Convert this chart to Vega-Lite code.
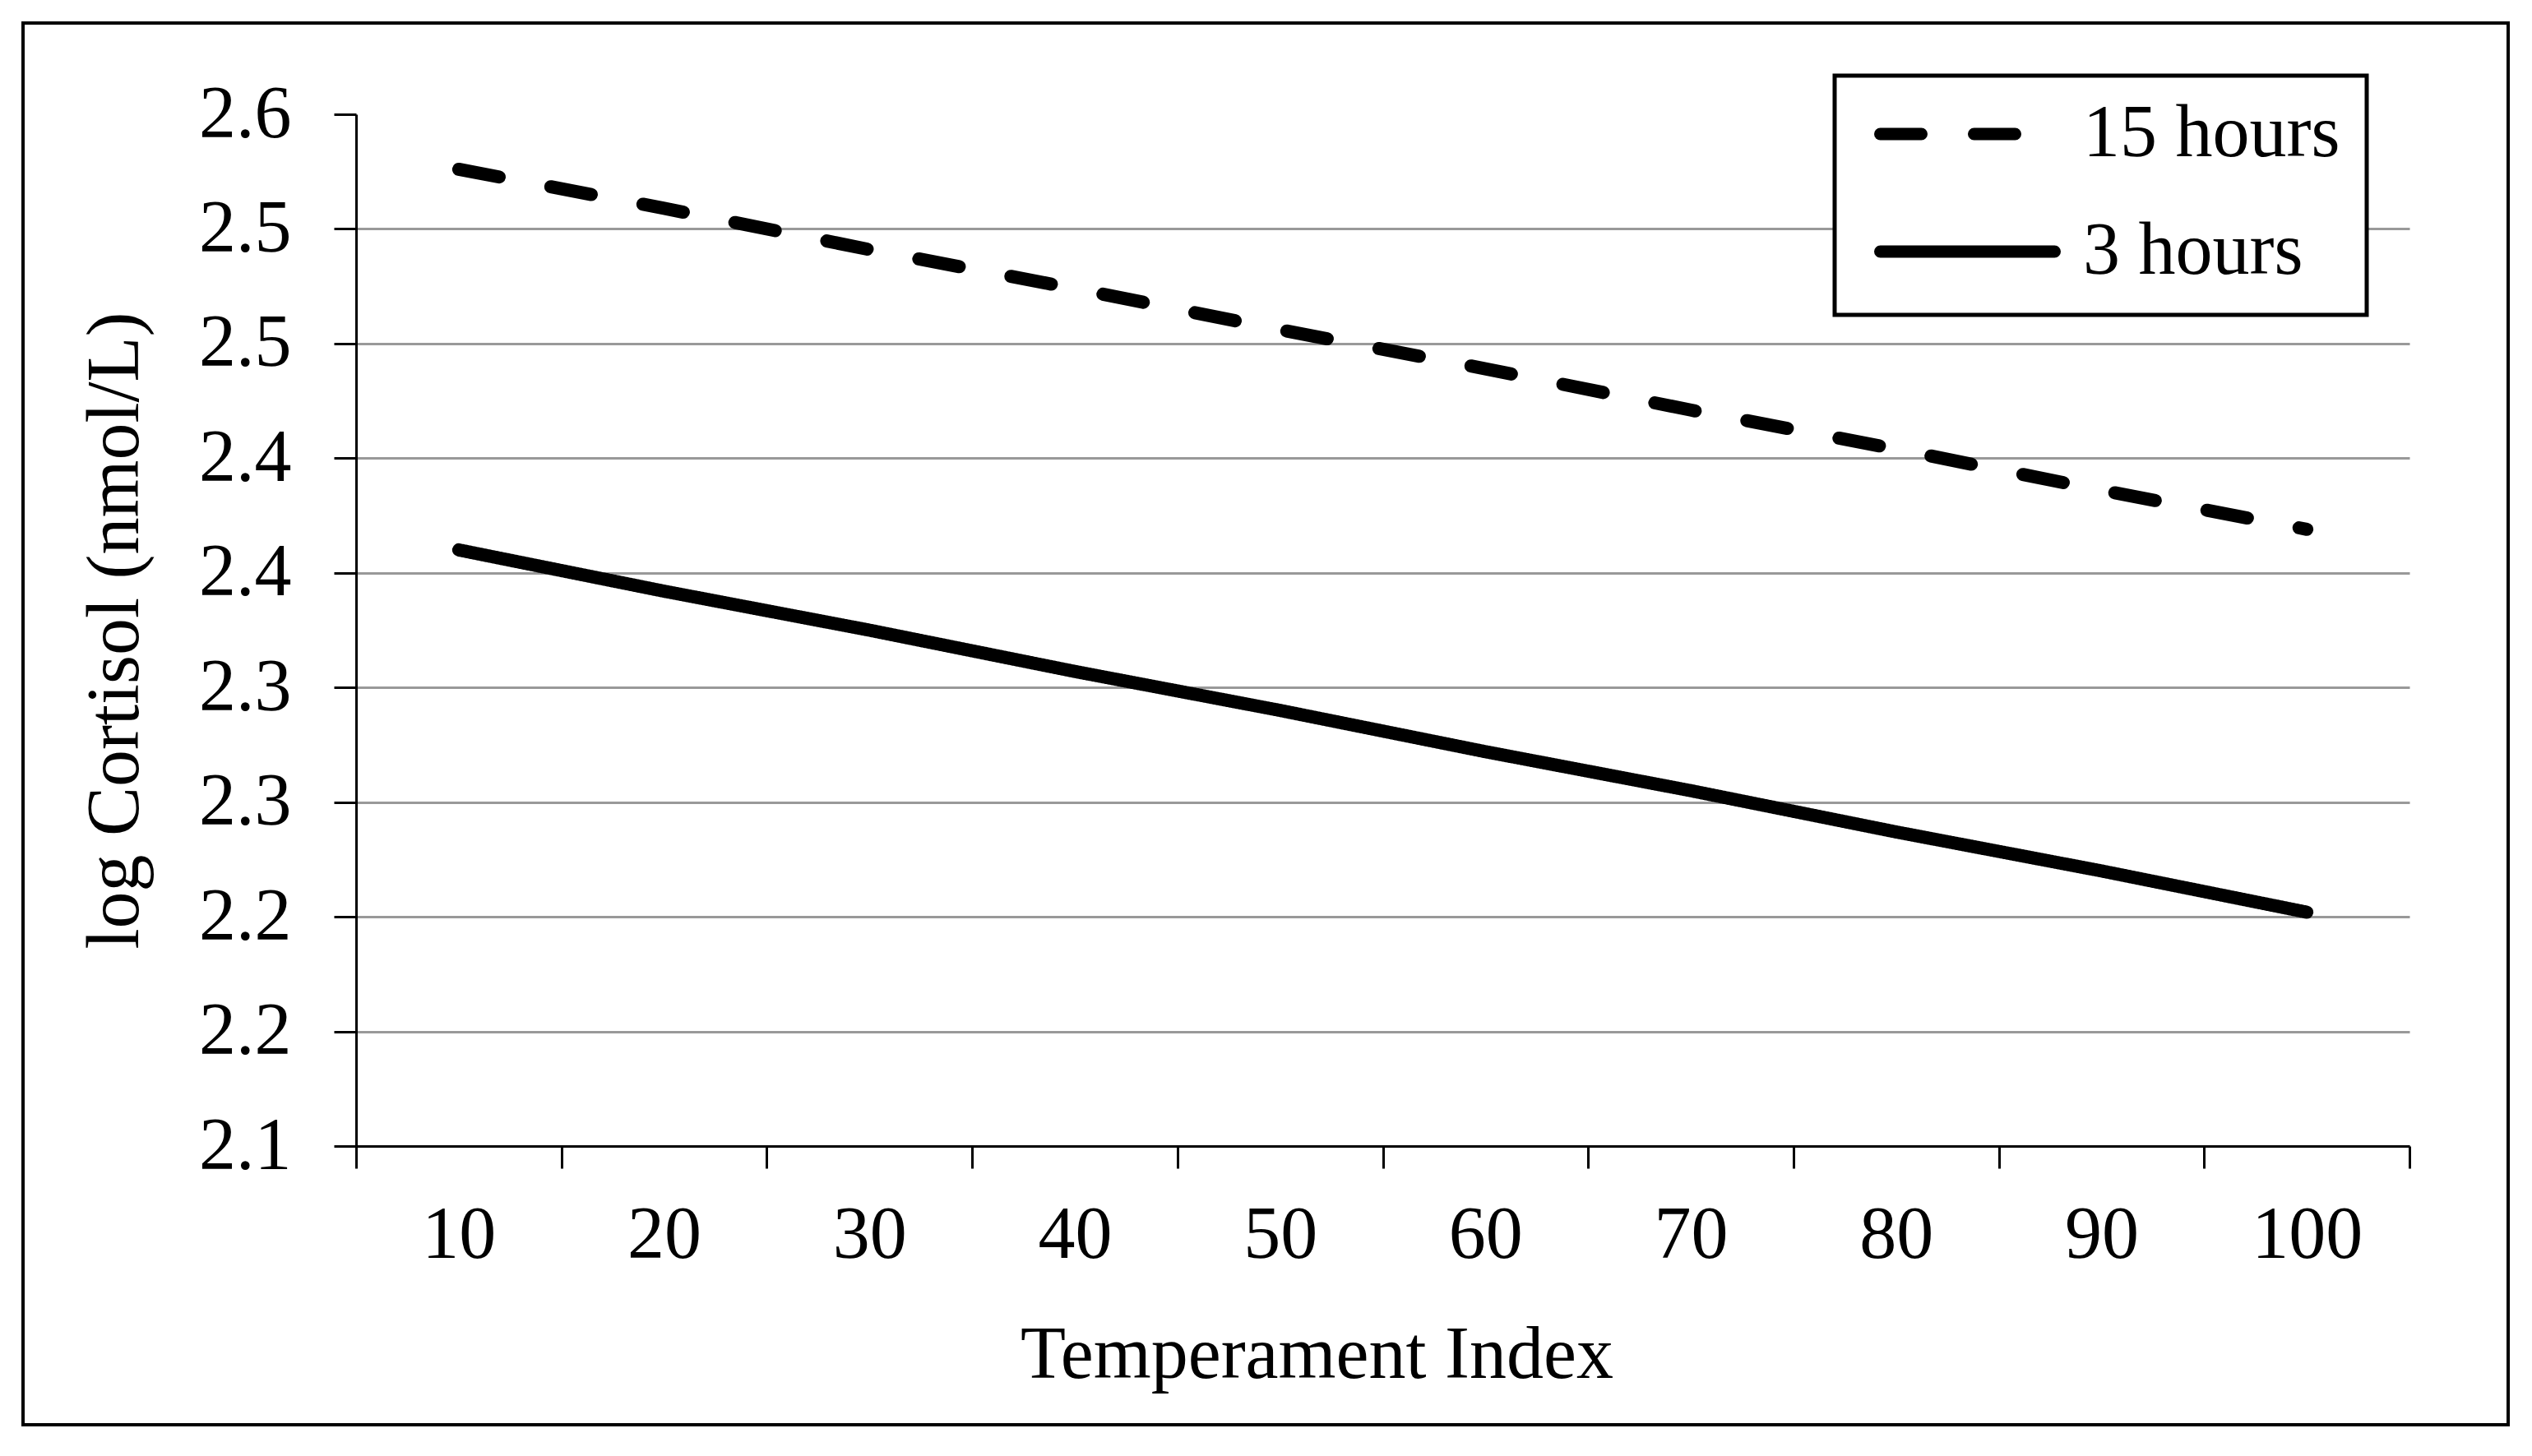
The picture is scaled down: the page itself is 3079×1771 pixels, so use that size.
{
  "$schema": "https://vega.github.io/schema/vega-lite/v6.json",
  "width": 3022,
  "height": 1705,
  "autosize": {"type": "none"},
  "padding": {"left": 28, "top": 28, "right": 29, "bottom": 38},
  "background": "white",
  "config": {
    "view": {"stroke": "black", "strokeWidth": 4},
    "axis": {
      "labelFont": "Liberation Serif",
      "labelFontSize": 90,
      "labelColor": "black",
      "titleFont": "Liberation Serif",
      "titleFontSize": 90,
      "titleFontWeight": "normal",
      "titleColor": "black",
      "domainColor": "black",
      "domainWidth": 3,
      "tickColor": "black",
      "tickWidth": 3,
      "tickSize": 27
    }
  },
  "data": {
    "values": [
      {"ti": 10, "series": "15 hours", "cortisol": 2.526},
      {"ti": 20, "series": "15 hours", "cortisol": 2.509},
      {"ti": 30, "series": "15 hours", "cortisol": 2.491},
      {"ti": 40, "series": "15 hours", "cortisol": 2.474},
      {"ti": 50, "series": "15 hours", "cortisol": 2.456},
      {"ti": 60, "series": "15 hours", "cortisol": 2.439},
      {"ti": 70, "series": "15 hours", "cortisol": 2.421},
      {"ti": 80, "series": "15 hours", "cortisol": 2.404},
      {"ti": 90, "series": "15 hours", "cortisol": 2.386},
      {"ti": 100, "series": "15 hours", "cortisol": 2.369},
      {"ti": 10, "series": "3 hours", "cortisol": 2.360},
      {"ti": 20, "series": "3 hours", "cortisol": 2.342},
      {"ti": 30, "series": "3 hours", "cortisol": 2.325},
      {"ti": 40, "series": "3 hours", "cortisol": 2.307},
      {"ti": 50, "series": "3 hours", "cortisol": 2.290},
      {"ti": 60, "series": "3 hours", "cortisol": 2.272},
      {"ti": 70, "series": "3 hours", "cortisol": 2.255},
      {"ti": 80, "series": "3 hours", "cortisol": 2.237},
      {"ti": 90, "series": "3 hours", "cortisol": 2.220},
      {"ti": 100, "series": "3 hours", "cortisol": 2.202}
    ]
  },
  "mark": {"type": "line", "color": "black", "strokeWidth": 16, "strokeCap": "round", "strokeJoin": "round"},
  "encoding": {
    "x": {
      "field": "ti",
      "type": "ordinal",
      "bandPosition": 0.5,
      "scale": {"type": "band", "range": [405, 2902], "paddingInner": 0, "paddingOuter": 0},
      "axis": {
        "title": "Temperament Index",
        "offset": -339,
        "labelAngle": 0,
        "tickBand": "extent",
        "labelPadding": 37,
        "grid": false,
        "titleX": 1573,
        "titleY": 281,
        "titleBaseline": "alphabetic",
        "titleAlign": "center"
      }
    },
    "y": {
      "field": "cortisol",
      "type": "quantitative",
      "scale": {"domain": [2.1, 2.55], "range": [1366, 111], "zero": false, "nice": false},
      "axis": {
        "title": "log Cortisol (nmol/L)",
        "offset": -405,
        "values": [2.1, 2.15, 2.2, 2.25, 2.3, 2.35, 2.4, 2.45, 2.5, 2.55],
        "labelExpr": "format(datum.value + 0.0001, '.1f')",
        "labelPadding": 52,
        "grid": true,
        "gridWidth": 3,
        "gridColor": {"condition": {"test": "datum.value > 2.54", "value": "transparent"}, "value": "#999999"},
        "titleX": -266,
        "titleY": 738.5,
        "titleAngle": -90,
        "titleBaseline": "alphabetic",
        "titleAlign": "center"
      }
    },
    "strokeDash": {
      "field": "series",
      "type": "nominal",
      "scale": {"domain": ["15 hours", "3 hours"], "range": [[50, 64], [1, 0]]},
      "legend": {
        "title": null,
        "orient": "none",
        "legendX": 2203,
        "legendY": 64,
        "padding": 32,
        "rowPadding": 53,
        "clipHeight": 78,
        "strokeColor": "black",
        "fillColor": "white",
        "symbolType": "stroke",
        "symbolSize": 44944,
        "symbolStrokeWidth": 15,
        "symbolStrokeColor": "black",
        "symbolOffset": 16,
        "labelOffset": 27,
        "labelFont": "Liberation Serif",
        "labelFontSize": 90,
        "labelColor": "black",
        "labelLimit": 1000,
        "encode": {
          "legend": {"update": {"strokeWidth": {"value": 5}}},
          "symbols": {"update": {"strokeCap": {"value": "round"}}}
        }
      }
    }
  }
}
